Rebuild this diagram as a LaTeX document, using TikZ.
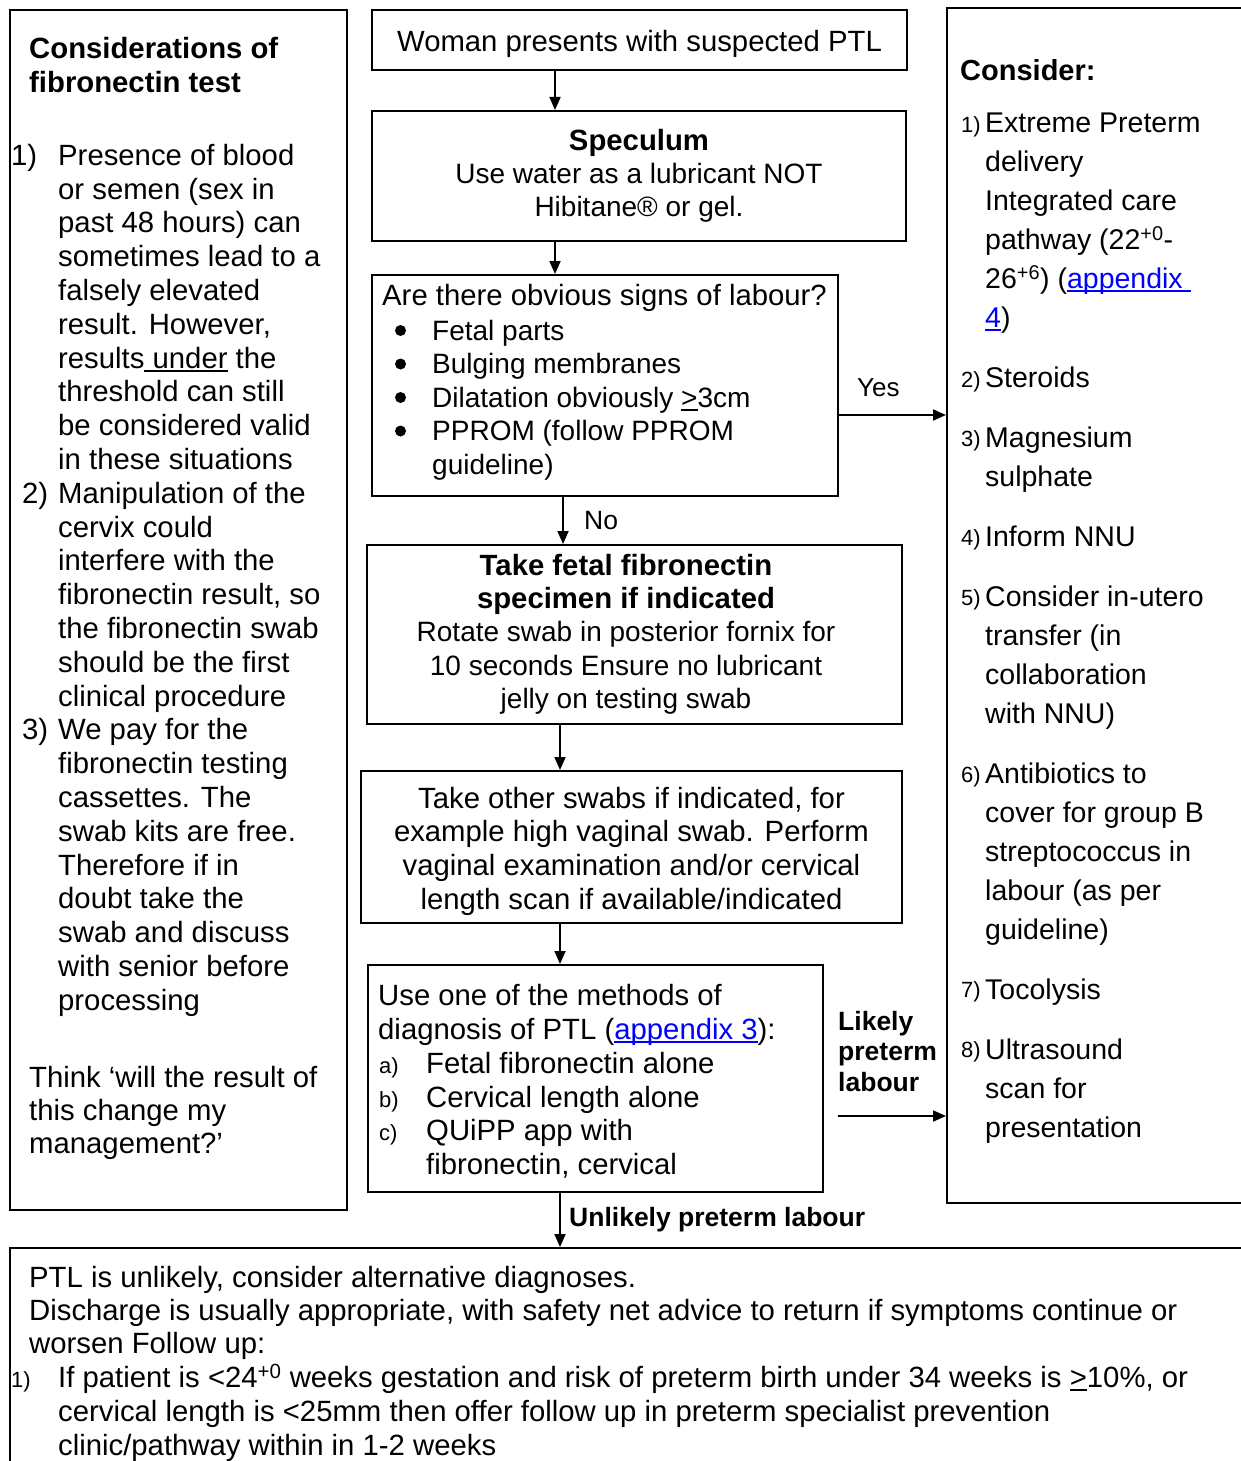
\documentclass[tikz,border=0pt]{standalone}
\usepackage{fontspec}
\setmainfont{Liberation Sans}
\usetikzlibrary{arrows.meta}

\newcommand\fsz[2]{\fontsize{#1}{#2}\selectfont}
\newcommand\toprl{\rule{0pt}{28pt}}
\newsavebox\ulbox
\newcommand\ulin[1]{\sbox\ulbox{#1}\rlap{\rule[-3.5pt]{\wd\ulbox}{1.8pt}}\usebox\ulbox}
\newcommand\lnk[1]{\textcolor{blue}{\ulin{#1}}}
\newcommand\midsz{\fontsize{28}{33}\selectfont}

\tikzset{
  box/.style={draw, line width=2pt, inner sep=0pt},
  arr/.style={line width=1.8pt, -{Triangle[length=13pt,width=11pt]}},
  txt/.style={inner sep=0pt, anchor=north west, align=left},
  ctxt/.style={inner sep=0pt, anchor=north, align=center},
  one/.style={inner sep=0pt, anchor=base west},
  body/.style={font=\fsz{29.3}{33.8}},
  small/.style={font=\fsz{22}{26}},
  lbl/.style={font=\bfseries\fsz{26.5}{30.5}},
  dot/.style={fill=black},
}

\begin{document}
\begin{tikzpicture}[x=1pt, y=-1pt]
\useasboundingbox (0,0) rectangle (1241,1461);
\clip (0,0) rectangle (1241,1461);

% frames
\node[box, minimum width=337pt, minimum height=1200pt] (lbox) at (178.5,610) {};
\node[box, minimum width=535pt, minimum height=60pt] (woman) at (639.5,40) {};
\node[box, minimum width=534pt, minimum height=130pt] (spec) at (639,176) {};
\node[box, minimum width=466pt, minimum height=221pt] (signs) at (605,385.5) {};
\node[box, minimum width=535pt, minimum height=179pt] (fib) at (634.5,634.5) {};
\node[box, minimum width=541pt, minimum height=152pt] (other) at (631.5,847) {};
\node[box, minimum width=455pt, minimum height=227pt] (methods) at (595.5,1078.5) {};
\node[box, minimum width=323pt, minimum height=1195pt] (rbox) at (1108.5,605.5) {};
\node[box, minimum width=1260pt, minimum height=242pt] (bbox) at (640,1369) {};

% left column: notes on the fibronectin test
\node[txt, font=\bfseries\fsz{29.3}{34}] (ltitle) at (29,30) {\toprl Considerations of\\fibronectin test};
\node[one, body] (ln1) at (11,165) {1)};
\node[one, body] (ln2) at (22,503) {2)};
\node[one, body] (ln3) at (22,739.6) {3)};
\node[txt, body] (litems) at (58,137) {\toprl Presence of blood\\or semen (sex in\\past 48 hours) can\\sometimes lead to a\\falsely elevated\\result. However,\\results\ulin{\ under} the\\threshold can still\\be considered valid\\in these situations\\Manipulation of the\\cervix could\\interfere with the\\fibronectin result, so\\the fibronectin swab\\should be the first\\clinical procedure\\We pay for the\\fibronectin testing\\cassettes. The\\swab kits are free.\\Therefore if in\\doubt take the\\swab and discuss\\with senior before\\processing};
\node[txt, font=\fsz{29.3}{33.3}] (lthink) at (29,1059) {\toprl Think ‘will the result of\\this change my\\management?’};

% central pathway
\node[one, anchor=base, body] (twoman) at (639.5,52) {Woman presents with suspected PTL};
\node[ctxt, font=\fsz{29.3}{33}] (tspec) at (639,122) {\toprl\textbf{Speculum}\\\midsz Use water as a lubricant NOT\\\midsz Hibitane® or gel.};
\node[one, body] (tq) at (382,305) {Are there obvious signs of labour?};
\foreach \yy in {330.5,364,397.5,431} \fill[dot] (400.5,\yy) circle (5.5pt);
\node[txt, font=\fsz{28}{33.5}] (tsigns) at (432,312) {\toprl Fetal parts\\Bulging membranes\\Dilatation obviously \ulin{>}3cm\\PPROM (follow PPROM\\guideline)};
\node[one, font=\fsz{26}{30}] (tyes) at (857,396) {Yes};
\node[one, font=\fsz{26.5}{30}] (tno) at (584,529) {No};
\node[ctxt, font=\fsz{29.3}{33.3}] (tfib) at (626,547) {\toprl\textbf{Take fetal fibronectin}\\\textbf{specimen if indicated}\\\midsz Rotate swab in posterior fornix for\\\midsz 10 seconds Ensure no lubricant\\\midsz jelly on testing swab};
\node[ctxt, font=\fsz{29.3}{33.7}] (tother) at (631.5,780) {\toprl Take other swabs if indicated, for\\example high vaginal swab. Perform\\vaginal examination and/or cervical\\length scan if available/indicated};
\node[txt, body] (tmeth) at (378,977) {\toprl Use one of the methods of\\diagnosis of PTL (\lnk{appendix 3}):};
\node[txt, font=\fsz{22}{33.8}] (tabc) at (379,1045) {\toprl a)\\b)\\c)};
\node[txt, body] (tmitems) at (426,1045) {\toprl Fetal fibronectin alone\\Cervical length alone\\QUiPP app with\\fibronectin, cervical};
\node[txt, lbl] (tlikely) at (838,1002) {\toprl Likely\\preterm\\labour};
\node[one, lbl] (tunlikely) at (569,1226) {Unlikely preterm labour};

% right column: actions when labour is likely
\node[one, font=\bfseries\fsz{29}{33}] (tconsider) at (960,81) {Consider:};
\node[one, small] (rn1) at (961,132) {1)};
\node[one, small] (rn2) at (961,387) {2)};
\node[one, small] (rn3) at (961,446) {3)};
\node[one, small] (rn4) at (961,545) {4)};
\node[one, small] (rn5) at (961,605) {5)};
\node[one, small] (rn6) at (961,782) {6)};
\node[one, small] (rn7) at (961,997) {7)};
\node[one, small] (rn8) at (961,1057) {8)};
\node[txt, font=\fsz{28.5}{39}] (ritems) at (985,104) {\toprl Extreme Preterm\\delivery\\Integrated care\\pathway (22\textsuperscript{+0}-\\26\textsuperscript{+6}) (\lnk{appendix\ }\\\lnk{4})\\[21pt]Steroids\\[21pt]Magnesium\\sulphate\\[21pt]Inform NNU\\[21pt]Consider in-utero\\transfer (in\\collaboration\\with NNU)\\[21pt]Antibiotics to\\cover for group B\\streptococcus in\\labour (as per\\guideline)\\[21pt]Tocolysis\\[21pt]Ultrasound\\scan for\\presentation};

% bottom panel: labour unlikely
\node[txt, font=\fsz{29.3}{33}] (tbot) at (29,1259) {\toprl PTL is unlikely, consider alternative diagnoses.\\Discharge is usually appropriate, with safety net advice to return if symptoms continue or\\worsen Follow up:};
\node[one, small] (bn1) at (11,1387) {1)};
\node[txt, font=\fsz{29.3}{34}] (tbot2) at (58,1359) {\toprl If patient is <24\textsuperscript{+0} weeks gestation and risk of preterm birth under 34 weeks is \ulin{>}10\%, or\\cervical length is <25mm then offer follow up in preterm specialist prevention\\clinic/pathway within in 1-2 weeks};

% connectors
\coordinate (c555) at (555,0);
\coordinate (c563) at (563,0);
\coordinate (c560) at (560,0);
\coordinate (yesrow) at (0,415);
\coordinate (likelyfrom) at (838,1116);
\draw[arr] (woman.south -| c555) -- (spec.north -| c555);
\draw[arr] (spec.south -| c555) -- (signs.north -| c555);
\draw[arr] (signs.south -| c563) -- (fib.north -| c563);
\draw[arr] (fib.south -| c560) -- (other.north -| c560);
\draw[arr] (other.south -| c560) -- (methods.north -| c560);
\draw[arr] (methods.south -| c560) -- (bbox.north -| c560);
\draw[arr] (signs.east |- yesrow) -- (rbox.west |- yesrow);
\draw[arr] (likelyfrom) -- (rbox.west |- likelyfrom);
\end{tikzpicture}
\end{document}
